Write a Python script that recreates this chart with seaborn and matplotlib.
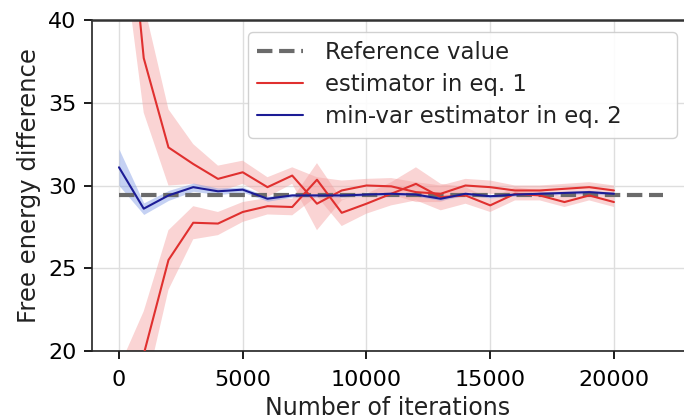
import numpy as np
import pandas as pd
import matplotlib
matplotlib.use("Agg")
import matplotlib.pyplot as plt
import seaborn as sns
from matplotlib.lines import Line2D

# iterations
ITERS = [0, 1000, 2000, 3000, 4000, 5000, 6000, 7000, 8000, 9000, 10000,
         11000, 12000, 13000, 14000, 15000, 16000, 17000, 18000, 19000, 20000]

# estimator in eq. 1, run approaching from above
EQ1_HIGH = [53.0, 37.7, 32.3, 31.3, 30.4, 30.8, 29.9, 30.6, 28.9, 29.7, 30.0,
            29.95, 29.6, 29.5, 30.0, 29.9, 29.7, 29.7, 29.8, 29.9, 29.7]
EQ1_HIGH_SD = [7.0, 3.3, 2.3, 1.2, 0.8, 0.7, 0.6, 0.5, 1.6, 0.6, 0.4,
               0.5, 0.6, 0.5, 0.4, 0.4, 0.3, 0.3, 0.3, 0.3, 0.3]

# estimator in eq. 1, run approaching from below
EQ1_LOW = [12.0, 19.8, 25.5, 27.75, 27.7, 28.4, 28.75, 28.7, 30.35, 28.35, 28.9,
           29.5, 30.1, 29.3, 29.4, 28.8, 29.5, 29.4, 29.0, 29.4, 29.0]
EQ1_LOW_SD = [7.0, 2.6, 1.8, 1.0, 0.7, 0.6, 0.5, 0.5, 1.0, 0.8, 0.6,
              0.7, 1.0, 0.8, 0.5, 0.4, 0.4, 0.3, 0.3, 0.3, 0.3]

# min-var estimator in eq. 2
EQ2 = [31.1, 28.6, 29.4, 29.9, 29.65, 29.75, 29.2, 29.4, 29.4, 29.4, 29.45,
       29.5, 29.45, 29.2, 29.5, 29.35, 29.45, 29.5, 29.55, 29.6, 29.5]
EQ2_SD = [1.1, 0.35, 0.3, 0.25, 0.2, 0.15, 0.15, 0.1, 0.1, 0.1, 0.1,
          0.1, 0.1, 0.1, 0.1, 0.1, 0.1, 0.1, 0.1, 0.1, 0.1]

REF_X = [0, 22000]
REF_VALUE = 29.45

RED = '#e0302f'
RED_FILL = '#f4a0a0'
BLUE = '#1c1c96'
BLUE_FILL = '#7f9be6'
GRAY = '#6b6b6b'

sns.set_theme(style="whitegrid", rc={
    "axes.edgecolor": "#222222",
    "axes.linewidth": 1.2,
    "grid.color": "#dedede",
    "xtick.bottom": True,
    "ytick.left": True,
    "xtick.major.size": 6,
    "ytick.major.size": 6,
    "xtick.color": "black",
    "ytick.color": "black",
    "text.color": "#222222",
    "axes.labelcolor": "#222222",
})
plt.rcParams['font.family'] = ['DejaVu Sans']

fig = plt.figure(figsize=(6.84, 4.2), dpi=100)
ax = fig.add_axes([92 / 684, 69 / 420, 1 - 92 / 684, 331 / 420])

df = pd.DataFrame({
    'iter': ITERS,
    'high': EQ1_HIGH, 'high_sd': EQ1_HIGH_SD,
    'low': EQ1_LOW, 'low_sd': EQ1_LOW_SD,
    'mv': EQ2, 'mv_sd': EQ2_SD,
})

sns.lineplot(x=REF_X, y=[REF_VALUE] * len(REF_X), ax=ax, color=GRAY,
             lw=3, linestyle='--', zorder=2)

for col in ['high', 'low']:
    ax.fill_between(df['iter'], df[col] - df[col + '_sd'], df[col] + df[col + '_sd'],
                    color=RED_FILL, alpha=0.45, lw=0, zorder=1)
    sns.lineplot(data=df, x='iter', y=col, ax=ax, color=RED, lw=1.5, zorder=3)

ax.fill_between(df['iter'], df['mv'] - df['mv_sd'], df['mv'] + df['mv_sd'],
                color=BLUE_FILL, alpha=0.45, lw=0, zorder=1)
sns.lineplot(data=df, x='iter', y='mv', ax=ax, color=BLUE, lw=1.5, zorder=4)

ax.set_xlim(-1090, 22830)
ax.set_ylim(20, 40)
ax.set_xticks([0, 5000, 10000, 15000, 20000])
ax.set_yticks([20, 25, 30, 35, 40])
ax.tick_params(axis='both', labelsize=16)
ax.tick_params(axis='x', pad=8)
ax.tick_params(axis='y', pad=5)
ax.spines['right'].set_visible(False)
ax.spines['top'].set_visible(True)
ax.spines['top'].set_color('#333333')
ax.spines['top'].set_linewidth(1.8)
ax.spines['top'].set_zorder(10)
ax.set_xlabel('Number of iterations', fontsize=17, labelpad=4)
ax.set_ylabel('Free energy difference', fontsize=17.5, labelpad=5)

handles = [
    Line2D([], [], color=GRAY, lw=3, linestyle='--'),
    Line2D([], [], color=RED, lw=1.5),
    Line2D([], [], color=BLUE, lw=1.5),
]
labels = ['Reference value', 'estimator in eq. 1', 'min-var estimator in eq. 2']
ax.legend(handles, labels, loc='upper left', fontsize=16.4, frameon=True,
          bbox_to_anchor=(0.2635, 0.665, 0.7245, 0.2985), mode='expand',
          facecolor='white', edgecolor='#cccccc', framealpha=0.9,
          borderaxespad=0, handlelength=2.0, handletextpad=1.0,
          labelspacing=0.4)

fig.savefig('out.png', dpi=100)
